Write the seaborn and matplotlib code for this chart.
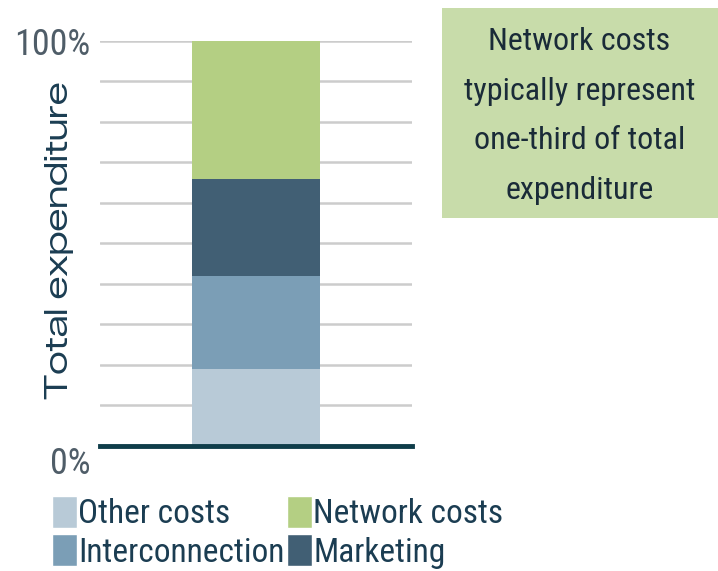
import pandas as pd
import matplotlib.pyplot as plt
import seaborn as sns
from matplotlib.patches import Rectangle, Patch

# Share of total expenditure (%), bottom to top
categories = ['Other costs', 'Interconnection', 'Marketing', 'Network costs']
shares = [19, 23, 24, 34]
colours = ['#b8cad7', '#7b9eb6', '#415f74', '#b4cf83']
ytick_values = [0, 100]
ytick_labels = ['0%', '100%']

data = pd.DataFrame({'category': categories, 'share': shares})
data['top'] = data['share'].cumsum()
data['bar'] = ''

sns.set_style("white")
narrow = ['Roboto Condensed', 'DejaVu Sans']
wide = ['Zalando Sans Expanded', 'DejaVu Sans']
text_col = '#1b3d52'

fig = plt.figure(figsize=(7.18, 5.71), dpi=100)
ax = fig.add_axes([0.1393, 0.2189, 0.4345, 0.7098])

# Stacked bar: draw cumulative heights from the top segment down
for i in reversed(range(len(data))):
    sns.barplot(x='bar', y='top', data=data.iloc[[i]], color=colours[i],
                width=0.41, saturation=1, errorbar=None, ax=ax, zorder=3,
                linewidth=0)

ax.set_xlim(-0.5, 0.5)
ax.set_ylim(0, 100)
ax.set_yticks(ytick_values, labels=ytick_labels)
ax.set_yticks(range(10, 100, 10), minor=True)
ax.yaxis.grid(True, which='both', color='#cccccc', linewidth=1.8, zorder=0)
ax.tick_params(axis='y', which='both', length=0, pad=7, labelsize=26,
               labelcolor='#4f5d68')
for lab in ax.get_yticklabels():
    lab.set_family(narrow)
ax.get_yticklabels()[0].set_va('top')
ax.set_xticks([])
ax.set_xlabel('')
ax.set_ylabel('Total expenditure', fontsize=23.3, color=text_col, family=wide)
ax.yaxis.set_label_coords(-0.084, 0.508)
for side in ['top', 'right', 'left']:
    ax.spines[side].set_visible(False)
ax.spines['bottom'].set_color('#0f3d4a')
ax.spines['bottom'].set_linewidth(3.5)
ax.spines['bottom'].set_zorder(5)

# Legend (two columns, square handles)
handles = [Patch(facecolor=colours[i], label=categories[i]) for i in [0, 1, 3, 2]]
fig.legend(handles=handles, ncol=2, loc='upper left',
           bbox_to_anchor=(52 / 718, 1 - 496 / 571), frameon=False,
           prop={'family': narrow, 'size': 24}, labelcolor=text_col,
           handlelength=0.75, handleheight=1.1, handletextpad=0.03,
           columnspacing=0.08, labelspacing=0.12, borderpad=0, borderaxespad=0)

# Call-out box
fig.patches.append(Rectangle((442 / 718, 1 - 218 / 571), 276 / 718, 210 / 571,
                             transform=fig.transFigure, facecolor='#c8dcaa',
                             edgecolor='none', zorder=0))
fig.text(579.5 / 718, 1 - 116 / 571,
         'Network costs\ntypically represent\none-third of total\nexpenditure',
         ha='center', va='center', multialignment='center', fontsize=23,
         family=narrow, color='#1a2b38', linespacing=1.89)

plt.savefig('out.png', dpi=100)
